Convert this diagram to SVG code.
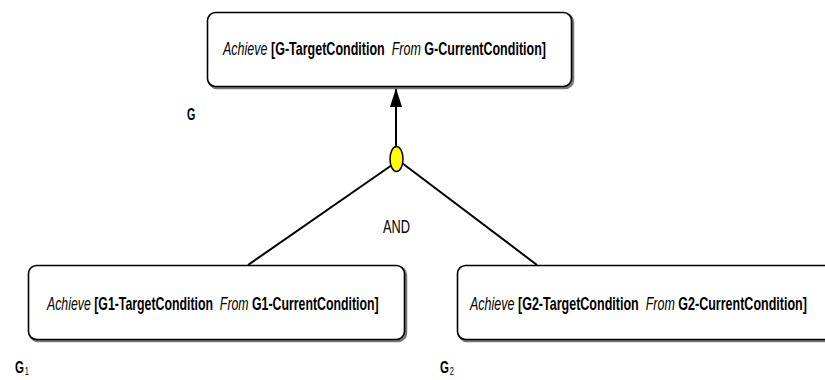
<svg xmlns="http://www.w3.org/2000/svg" width="825" height="380" viewBox="0 0 825 380">
  <defs>
    <marker id="arrow" viewBox="0 0 19 12" refX="19" refY="6" markerWidth="19" markerHeight="12" markerUnits="userSpaceOnUse" orient="auto">
      <path d="M0,0 L19,6 L0,12 Z" fill="#000"/>
    </marker>
  </defs>
  <style>
    .shadow { fill: none; stroke: #777; stroke-width: 2.5; }
    .box { fill: #fff; stroke: #000; stroke-width: 1.6; }
    .goal { font-family: "Liberation Sans", Arial, sans-serif; font-size: 18px; fill: #000; }
    .it { font-style: italic; }
    .b { font-weight: bold; }
    .lbl { font-family: "Liberation Sans", Arial, sans-serif; font-weight: bold; font-size: 17px; fill: #000; }
    .sub { font-size: 11px; font-weight: normal; }
    .link { stroke: #000; stroke-width: 2; fill: none; }
  </style>
  <rect width="825" height="380" fill="#fff"/>

  <!-- refinement links -->
  <g id="connectors">
    <line class="link" x1="248" y1="265" x2="392" y2="165"/>
    <line class="link" x1="537" y1="265" x2="402" y2="163"/>
    <line class="link" x1="396" y1="147" x2="396" y2="88" marker-end="url(#arrow)"/>
    <ellipse cx="396.5" cy="159" rx="6.5" ry="12.5" fill="#ffff00" stroke="#000" stroke-width="1.5"/>
    <text x="383" y="233" font-family="'Liberation Sans', Arial, sans-serif" font-size="18" textLength="27" lengthAdjust="spacingAndGlyphs" fill="#000">AND</text>
  </g>

  <!-- parent goal G (goal text condensed horizontally) -->
  <g id="goal-G">
    <rect class="shadow" x="209" y="14" width="364" height="74" rx="8"/>
    <rect class="box" x="207.5" y="12.5" width="364" height="74" rx="8"/>
    <text class="goal" transform="translate(223 55) scale(0.695 1)" xml:space="preserve"><tspan class="it">Achieve</tspan> <tspan class="b">[G-TargetCondition</tspan>  <tspan class="it">From</tspan> <tspan class="b">G-CurrentCondition]</tspan></text>
    <text class="lbl" transform="translate(187 120) scale(0.63 1)">G</text>
  </g>

  <!-- subgoal G1 -->
  <g id="goal-G1">
    <rect class="shadow" x="30" y="267" width="376" height="74" rx="8"/>
    <rect class="box" x="28.5" y="265.5" width="376" height="74" rx="8"/>
    <text class="goal" transform="translate(47 310) scale(0.685 1)" xml:space="preserve"><tspan class="it">Achieve</tspan> <tspan class="b">[G1-TargetCondition</tspan>  <tspan class="it">From</tspan> <tspan class="b">G1-CurrentCondition]</tspan></text>
    <text class="lbl" transform="translate(15 373) scale(0.68 1)">G<tspan class="sub" dx="1" dy="2">1</tspan></text>
  </g>

  <!-- subgoal G2 -->
  <g id="goal-G2">
    <rect class="shadow" x="459" y="267" width="380" height="74" rx="8"/>
    <rect class="box" x="457.5" y="265.5" width="380" height="74" rx="8"/>
    <text class="goal" transform="translate(470 310) scale(0.695 1)" xml:space="preserve"><tspan class="it">Achieve</tspan> <tspan class="b">[G2-TargetCondition</tspan>  <tspan class="it">From</tspan> <tspan class="b">G2-CurrentCondition]</tspan></text>
    <text class="lbl" transform="translate(440 373) scale(0.68 1)">G<tspan class="sub" dx="1" dy="2">2</tspan></text>
  </g>
</svg>
